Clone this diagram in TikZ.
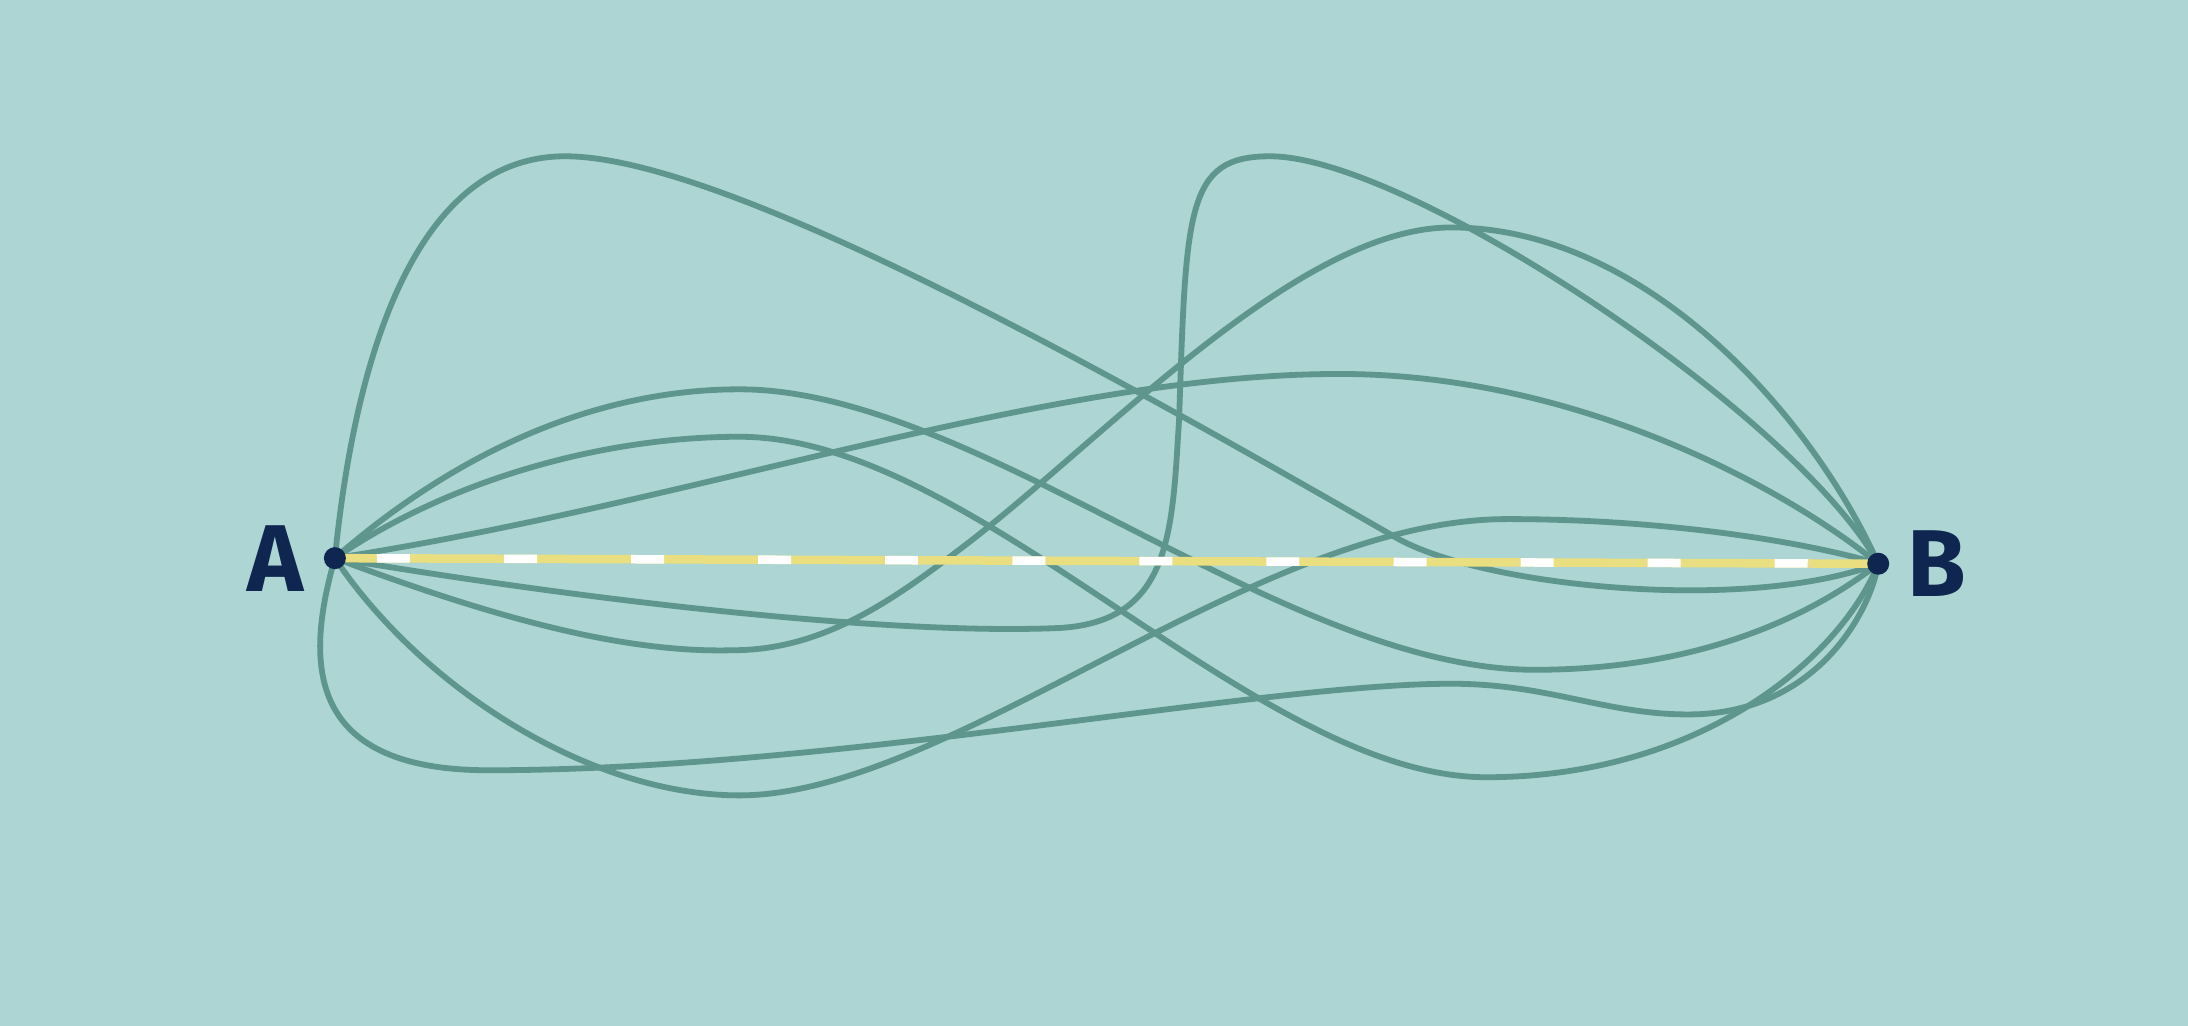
\documentclass[tikz,border=0pt]{standalone}
\usepackage{fontspec}
\setmainfont{Fira Sans}
\usetikzlibrary{positioning}
\definecolor{bgteal}{HTML}{ACD5D3}
\definecolor{pathgreen}{HTML}{5E958D}
\definecolor{dotnavy}{HTML}{0F2650}
\definecolor{lineyellow}{HTML}{E9DE80}

\begin{document}
\begin{tikzpicture}[
    x=0.013954cm, y=-0.013954cm,
    wander/.style={
        draw=pathgreen, line width=0.058cm, line cap=round,
    },
    straight/.style={
        draw=lineyellow, line width=0.085cm,
    },
    straightdash/.style={
        draw=white, line width=0.085cm,
        dash pattern=on 0.33cm off 0.94cm, dash phase=0.85cm,
    },
    dot/.style={
        circle, fill=dotnavy, inner sep=0pt, minimum size=0.22cm,
    },
    endlabel/.style={
        font=\fontsize{27}{27}\selectfont\bfseries, text=dotnavy,
        inner sep=0pt,
    },
]

% Background (fixes the page size)
\fill[bgteal] (0,0) rectangle (1568,735);

% End points
\coordinate (A) at (240,400);
\coordinate (B) at (1346,404);

% Winding paths from A to B
\draw[wander] (A) .. controls (255,250) and (300,112) .. (405,112)
    .. controls (520,112) and (800,270) .. (1000,385)
    .. controls (1060,420) and (1250,440) .. (B);

\draw[wander] (A) .. controls (450,435) and (650,455) .. (760,450)
    .. controls (840,445) and (840,380) .. (845,300)
    .. controls (850,150) and (850,112) .. (910,112)
    .. controls (1010,112) and (1290,300) .. (B);

\draw[wander] (A) .. controls (500,360) and (750,268) .. (960,268)
    .. controls (1130,268) and (1280,350) .. (B);

\draw[wander] (A) .. controls (360,445) and (450,468) .. (525,466)
    .. controls (590,466) and (640,430) .. (690,392)
    .. controls (790,316) and (930,163) .. (1040,163)
    .. controls (1180,163) and (1300,300) .. (B);

\draw[wander] (A) .. controls (300,490) and (420,570) .. (530,570)
    .. controls (680,570) and (900,372) .. (1080,372)
    .. controls (1200,372) and (1300,390) .. (B);

\draw[wander] (A) .. controls (320,330) and (420,279) .. (530,279)
    .. controls (700,279) and (920,480) .. (1100,480)
    .. controls (1220,480) and (1300,440) .. (B);

\draw[wander] (A) .. controls (320,345) and (430,313) .. (530,313)
    .. controls (700,313) and (900,557) .. (1065,557)
    .. controls (1220,557) and (1320,470) .. (B);

\draw[wander] (A) .. controls (220,470) and (215,552) .. (350,552)
    .. controls (600,552) and (900,490) .. (1040,490)
    .. controls (1110,490) and (1150,512) .. (1210,512)
    .. controls (1300,512) and (1340,440) .. (B);

% Straight line A--B
\draw[straight] (A) -- (B);
\draw[straightdash] (A) -- (B);

% Dots and labels
\node[dot] (ptA) at (A) {};
\node[dot] (ptB) at (B) {};
\node[endlabel, left=0.19cm of ptA] (labA) {A};
\node[endlabel, right=0.17cm of ptB] (labB) {B};

\end{tikzpicture}
\end{document}
